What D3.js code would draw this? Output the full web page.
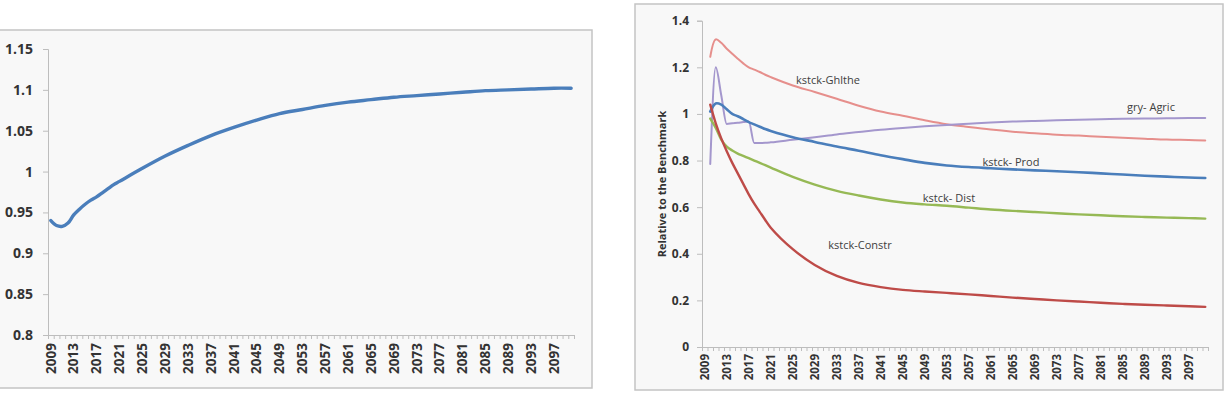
<!DOCTYPE html>
<html>
<head>
<meta charset="utf-8">
<script src="https://cdn.jsdelivr.net/npm/d3@7"></script>
<style>
  html, body { margin: 0; padding: 0; background: #fff; }
  svg { display: block; font-family: 'Open Sans', sans-serif; }
</style>
</head>
<body>
<svg id="chart" width="1225" height="402"></svg>
<script>
// categories: every year 2009..2100, labelled every fourth year
const years = d3.range(2009, 2101);
const tickYears = d3.range(2009, 2101, 4);

// years the values below were read at
const leftYears = [2009, 2010, 2011, 2012, 2013, 2014, 2015, 2016, 2017, 2018, 2019, 2020, 2021,
  2025, 2029, 2033, 2037, 2041, 2045, 2049, 2053, 2057, 2061, 2065, 2069, 2073, 2077, 2081,
  2085, 2089, 2093, 2097, 2100];
const rightYears = leftYears.slice(1);

// left panel
const leftValues = [0.940, 0.934, 0.933, 0.937, 0.947, 0.954, 0.960, 0.965, 0.969, 0.974, 0.979, 0.984, 0.988,
  1.004, 1.019, 1.032, 1.044, 1.054, 1.063, 1.071, 1.076, 1.081, 1.085, 1.088, 1.091, 1.093, 1.095, 1.097,
  1.099, 1.100, 1.101, 1.102, 1.102];
const leftTicks = [0.8, 0.85, 0.9, 0.95, 1, 1.05, 1.1, 1.15];

// right panel
const ghlthe = [1.245, 1.320, 1.305, 1.280, 1.258, 1.237, 1.217, 1.200, 1.190, 1.180, 1.168, 1.158,
  1.122, 1.094, 1.065, 1.035, 1.010, 0.992, 0.973, 0.956, 0.944, 0.933, 0.924, 0.917, 0.911, 0.907,
  0.902, 0.898, 0.894, 0.890, 0.888, 0.886];
const agric = [0.785, 1.200, 1.080, 0.957, 0.960, 0.962, 0.965, 0.967, 0.875, 0.875, 0.876, 0.878,
  0.889, 0.900, 0.912, 0.922, 0.932, 0.940, 0.947, 0.953, 0.958, 0.963, 0.967, 0.970, 0.973, 0.975,
  0.977, 0.979, 0.980, 0.981, 0.982, 0.982];
const prod = [1.010, 1.045, 1.040, 1.020, 1.000, 0.990, 0.978, 0.965, 0.955, 0.945, 0.935, 0.927,
  0.900, 0.880, 0.860, 0.842, 0.823, 0.806, 0.790, 0.779, 0.772, 0.767, 0.762, 0.758, 0.754, 0.750,
  0.745, 0.740, 0.735, 0.731, 0.727, 0.725];
const dist = [0.980, 0.940, 0.890, 0.860, 0.843, 0.830, 0.820, 0.810, 0.800, 0.790, 0.780, 0.770,
  0.730, 0.697, 0.670, 0.650, 0.633, 0.620, 0.612, 0.606, 0.598, 0.590, 0.584, 0.579, 0.574, 0.569,
  0.565, 0.561, 0.558, 0.555, 0.553, 0.551];
const constr = [1.040, 0.960, 0.895, 0.840, 0.790, 0.745, 0.700, 0.655, 0.615, 0.580, 0.545, 0.512,
  0.420, 0.352, 0.305, 0.275, 0.257, 0.245, 0.238, 0.232, 0.226, 0.219, 0.212, 0.206, 0.200, 0.195,
  0.190, 0.185, 0.181, 0.178, 0.175, 0.172];
const rightTicks = [0, 0.2, 0.4, 0.6, 0.8, 1, 1.2, 1.4];

const rightSeries = [
  { name: 'kstck-Ghlthe', values: ghlthe, color: '#e68f8c', width: 2, lx: 828, ly: 80 },
  { name: 'gry- Agric', values: agric, color: '#a497cd', width: 2, lx: 1151, ly: 107, kinked: true },
  { name: 'kstck- Prod', values: prod, color: '#4a7ebb', width: 2.6, lx: 1011, ly: 162 },
  { name: 'kstck- Dist', values: dist, color: '#96b955', width: 2.4, lx: 949, ly: 198 },
  { name: 'kstck-Constr', values: constr, color: '#be4b48', width: 2.4, lx: 860, ly: 245 },
];

const svg = d3.select('#chart');

function drawPanel(opt) {
  const g = svg.append('g');

  g.append('rect')
    .attr('x', opt.frame[0]).attr('y', opt.frame[1])
    .attr('width', opt.frame[2]).attr('height', opt.frame[3])
    .attr('fill', '#f8f8f8')
    .attr('stroke', '#c4c4c4')
    .attr('stroke-width', 1.5);

  const x = d3.scaleBand().domain(years).range([opt.left, opt.right]);
  const xEdge = d3.scaleLinear().domain([2009, 2101]).range([opt.left, opt.right]);
  const y = d3.scaleLinear().domain(opt.yDomain).range([opt.bottom, opt.top]);

  // minor ticks between categories
  g.append('g')
    .attr('transform', `translate(0,${opt.bottom})`)
    .call(d3.axisBottom(xEdge).tickValues(d3.range(2009, 2102)).tickFormat('').tickSize(4))
    .call(a => a.selectAll('line').attr('stroke', '#bdbdbd'))
    .call(a => a.select('.domain').attr('stroke', '#bdbdbd'));

  // year labels
  g.append('g')
    .attr('transform', `translate(0,${opt.bottom})`)
    .call(d3.axisBottom(x).tickValues(tickYears).tickSize(0).tickPadding(0))
    .call(a => a.select('.domain').remove())
    .call(a => a.selectAll('text')
      .attr('transform', `translate(0,${opt.labelGap}) rotate(-90)`)
      .attr('x', 0).attr('y', 0).attr('dy', '0.35em')
      .attr('text-anchor', 'end')
      .attr('font-family', "'Open Sans', sans-serif")
      .attr('font-size', opt.xFont)
      .attr('font-weight', 'bold')
      .attr('fill', '#333'));

  g.append('g')
    .attr('transform', `translate(${opt.left},0)`)
    .call(d3.axisLeft(y).tickValues(opt.yTicks).tickSize(5).tickPadding(opt.yPad).tickFormat(d3.format('~g')))
    .call(a => a.selectAll('line').attr('stroke', '#bdbdbd'))
    .call(a => a.select('.domain').attr('stroke', '#bdbdbd'))
    .call(a => a.selectAll('text')
      .attr('font-family', "'Open Sans', sans-serif")
      .attr('font-size', opt.yFont)
      .attr('font-weight', 'bold')
      .attr('fill', '#333'));

  opt.series.forEach((s) => {
    const line = d3.line()
      .x(d => x(d[0]) + x.bandwidth() / 2)
      .y(d => y(d[1]))
      .curve(s.kinked ? d3.curveMonotoneX : d3.curveCatmullRom.alpha(0.5));
    g.append('path')
      .datum(s.years.map((yr, i) => [yr, s.values[i]]))
      .attr('fill', 'none')
      .attr('stroke', s.color)
      .attr('stroke-width', s.width)
      .attr('stroke-linejoin', 'round')
      .attr('stroke-linecap', 'round')
      .attr('d', line);
    if (s.name) {
      g.append('text')
        .attr('x', s.lx).attr('y', s.ly).attr('dy', '0.35em')
        .attr('text-anchor', 'middle')
        .attr('font-size', 11)
        .attr('fill', '#404040')
        .text(s.name);
    }
  });
  return g;
}

drawPanel({
  frame: [-2, 30, 594, 358],
  left: 48, right: 574, top: 49, bottom: 335,
  yDomain: [0.8, 1.15], yTicks: leftTicks, yFont: 14, yPad: 10,
  xFont: 13.5, labelGap: 8,
  series: [{ years: leftYears, values: leftValues, color: '#4a7ebb', width: 3.4 }],
});

const right = drawPanel({
  frame: [635, 4, 588, 386],
  left: 702, right: 1208, top: 20.7, bottom: 347,
  yDomain: [0, 1.4], yTicks: rightTicks, yFont: 12, yPad: 8,
  xFont: 11.5, labelGap: 7,
  series: rightSeries.map(s => Object.assign({ years: rightYears }, s)),
});

right.append('text')
  .attr('transform', 'translate(662,184) rotate(-90)')
  .attr('text-anchor', 'middle')
  .attr('dy', '0.35em')
  .attr('font-size', 11)
  .attr('font-weight', 'bold')
  .attr('fill', '#333')
  .text('Relative to the Benchmark');
</script>
</body>
</html>
